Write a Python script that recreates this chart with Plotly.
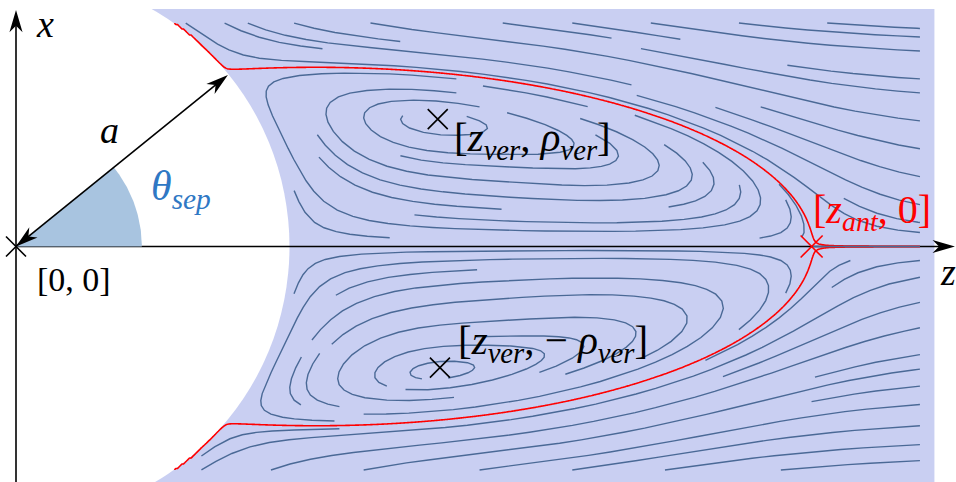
import math
import numpy as np
import plotly.graph_objects as go

# ---------------- values (sphere radius a = 1) ----------------
theta_sep_deg = 39.0            # separation angle theta_sep
z_ant = 2.909                   # rear stagnation point [z_ant, 0]
vortex_z = [1.542, 1.550]       # vortex centres [z_ver, +/-rho_ver]
vortex_x = [0.466, -0.443]
bubble_z_center = 1.10          # recirculation bubble (elliptic fit of separatrix)
bubble_half_height = 0.655
domain_z = [0.0, 3.358]         # shaded computational domain
domain_x = [-0.868, 0.868]
stream_z = [0.0, 3.305]         # extent of the streamline grid
stream_x = [-0.817, 0.817]
wedge_radius = 0.46
axis_x_tip = 0.865
axis_z_tip = 3.433
view_z = [-0.0585, 3.4369]
view_x = [-0.861, 0.9013]

# ---------------- model stream function of the flow ----------------
ZC = bubble_z_center
A = z_ant - bubble_z_center
B = bubble_half_height
S = 2.0
R_STOP = 1.02
ZV = sum(vortex_z) / 2.0
XV = (abs(vortex_x[0]) + abs(vortex_x[1])) / 2.0
SIG_Z, SIG_X = 0.6, 0.3


def base_terms(z, x):
    r2 = z * z + x * x
    f = x * (1.0 - 1.0 / r2)
    g = ((z - ZC) / A) ** 2 + (x / B) ** 2 - 1.0
    return f, g


def psi0(z, x):
    f, g = base_terms(z, x)
    return f * math.tanh(S * g)


# correction that places the vortex centre at the read position (vanishes on psi = 0 lines)
_h = 1e-6
_gz = (psi0(ZV + _h, XV) - psi0(ZV - _h, XV)) / (2 * _h)
_gx = (psi0(ZV, XV + _h) - psi0(ZV, XV - _h)) / (2 * _h)
_f, _g = base_terms(ZV, XV)
C1 = -_gz / (_f * _g)
C2 = -_gx / (_f * _g)


def psi_s(z, x):
    f, g = base_terms(z, x)
    ax = abs(x)
    k = math.exp(-((z - ZV) / SIG_Z) ** 2 - ((ax - XV) / SIG_X) ** 2)
    return f * (math.tanh(S * g) + g * (C1 * (z - ZV) + C2 * (ax - XV)) * k)


def psi_np(z, x):
    r2 = z * z + x * x
    f = x * (1.0 - 1.0 / r2)
    g = ((z - ZC) / A) ** 2 + (x / B) ** 2 - 1.0
    ax = np.abs(x)
    k = np.exp(-((z - ZV) / SIG_Z) ** 2 - ((ax - XV) / SIG_X) ** 2)
    return f * (np.tanh(S * g) + g * (C1 * (z - ZV) + C2 * (ax - XV)) * k)


def vel(z, x, h=1e-6):
    u = (psi_s(z, x + h) - psi_s(z, x - h)) / (2 * h)
    v = -(psi_s(z + h, x) - psi_s(z - h, x)) / (2 * h)
    return u, v


class OutOfBounds(Exception):
    pass


class Terminate(Exception):
    pass


class Invalid(Exception):
    pass


def gen_starting_points(nx, ny):
    xfirst, yfirst, xlast, ylast = 0, 1, nx - 1, ny - 1
    x, y = 0, 0
    direction = 'right'
    for _ in range(nx * ny):
        yield x, y
        if direction == 'right':
            x += 1
            if x >= xlast:
                xlast -= 1
                direction = 'up'
        elif direction == 'up':
            y += 1
            if y >= ylast:
                ylast -= 1
                direction = 'left'
        elif direction == 'left':
            x -= 1
            if x <= xfirst:
                xfirst += 1
                direction = 'down'
        elif direction == 'down':
            y -= 1
            if y <= yfirst:
                yfirst += 1
                direction = 'right'


def streamplot(density=(1.35, 1.1), minlength=0.1, maxlength=4.0):
    nxm, nym = int(30 * density[0]), int(30 * density[1])
    mask = np.zeros((nym, nxm), dtype=int)
    Z0, Z1 = stream_z
    X0, X1 = stream_x
    Lz, Lx = Z1 - Z0, X1 - X0
    st = {'cur': None, 'traj': []}
    maxds = min(1.0 / nxm, 1.0 / nym, 0.1)
    maxerror = 0.003

    def cell(sx, sy):
        return int(sx * (nxm - 1) + 0.5), int(sy * (nym - 1) + 0.5)

    def update(sx, sy):
        if not (0 <= sx <= 1 and 0 <= sy <= 1):
            raise Invalid
        xm, ym = cell(sx, sy)
        if st['cur'] != (xm, ym):
            if mask[ym, xm] == 0:
                st['traj'].append((ym, xm))
                mask[ym, xm] = 1
                st['cur'] = (xm, ym)
            else:
                raise Invalid

    def f(sx, sy, sign):
        if not (0 <= sx <= 1 and 0 <= sy <= 1):
            raise OutOfBounds
        z, x = Z0 + sx * Lz, X0 + sy * Lx
        if z * z + x * x < R_STOP ** 2:
            raise Terminate
        u, v = vel(z, x)
        ua, va = u / Lz, v / Lx
        sp = math.hypot(ua, va)
        if sp == 0:
            raise Terminate
        return sign * ua / sp, sign * va / sp

    def euler(traj, sign):
        sx, sy = traj[-1]
        try:
            cx, cy = f(sx, sy, sign)
        except (OutOfBounds, Terminate):
            return 0.0
        dsx = math.inf if cx == 0 else (sx / -cx if cx < 0 else (1 - sx) / cx)
        dsy = math.inf if cy == 0 else (sy / -cy if cy < 0 else (1 - sy) / cy)
        ds = min(dsx, dsy)
        traj.append((sx + cx * ds, sy + cy * ds))
        return ds

    def rk12(sx, sy, sign):
        ds, stotal, traj = maxds, 0.0, []
        while True:
            try:
                if 0 <= sx <= 1 and 0 <= sy <= 1:
                    traj.append((sx, sy))
                else:
                    raise OutOfBounds
                k1 = f(sx, sy, sign)
                k2 = f(sx + ds * k1[0], sy + ds * k1[1], sign)
            except OutOfBounds:
                if traj:
                    stotal += euler(traj, sign)
                break
            except Terminate:
                break
            dx1, dy1 = ds * k1[0], ds * k1[1]
            dx2, dy2 = ds * 0.5 * (k1[0] + k2[0]), ds * 0.5 * (k1[1] + k2[1])
            err = math.hypot(dx2 - dx1, dy2 - dy1)
            if err < maxerror:
                sx += dx2
                sy += dy2
                try:
                    update(sx, sy)
                except Invalid:
                    break
                if stotal + ds > maxlength:
                    break
                stotal += ds
            if err == 0:
                ds = maxds
            else:
                ds = min(maxds, 0.85 * ds * math.sqrt(maxerror / err))
        return stotal, traj

    lines = []
    for xm, ym in gen_starting_points(nxm, nym):
        if mask[ym, xm] != 0:
            continue
        sx0, sy0 = xm / (nxm - 1), ym / (nym - 1)
        st['traj'], st['cur'] = [], None
        try:
            update(sx0, sy0)
        except Invalid:
            continue
        s1, t1 = rk12(sx0, sy0, -1)
        st['cur'] = cell(sx0, sy0)
        s2, t2 = rk12(sx0, sy0, 1)
        if s1 + s2 > minlength:
            pts = t1[::-1] + t2[1:]
            lines.append([(Z0 + a * Lz, X0 + b * Lx) for a, b in pts])
        else:
            for (yy, xx) in st['traj']:
                mask[yy, xx] = 0
    return lines


stream_lines = streamplot()
sl_z, sl_x = [], []
for ln in stream_lines:
    sl_z += [p[0] for p in ln] + [None]
    sl_x += [p[1] for p in ln] + [None]

# separatrix: level set just outside the psi = 0 dividing streamline
cz = np.linspace(stream_z[0], stream_z[1], 600)
cx = np.linspace(stream_x[0], stream_x[1], 301)
Zg, Xg = np.meshgrid(cz, cx)
R2 = Zg ** 2 + Xg ** 2
PSI = psi_np(Zg, Xg)
PHI = np.where(R2 > 1.0, PSI * np.sign(Xg), -1.0)

BLUE_DOMAIN = '#c9cff2'
STREAM = '#4a6996'
WEDGE = '#a8c4e0'
THETA_COL = '#2f78c4'
RED = '#ff0000'
FONT = 'Liberation Serif, DejaVu Serif, serif'

fig = go.Figure()

th = math.radians(theta_sep_deg)
angs = np.linspace(0, th, 50)
wz = [0.0] + list(wedge_radius * np.cos(angs)) + [0.0]
wx = [0.0] + list(wedge_radius * np.sin(angs)) + [0.0]
fig.add_trace(go.Scatter(x=wz, y=wx, mode='lines', fill='toself', fillcolor=WEDGE,
                         line=dict(width=0, color=WEDGE), hoverinfo='skip'))

fig.add_trace(go.Scatter(x=sl_z, y=sl_x, mode='lines', line=dict(color=STREAM, width=1.4),
                         hoverinfo='skip', connectgaps=False))

fig.add_trace(go.Contour(x=cz, y=cx, z=PHI, autocontour=False,
                         contours=dict(start=0.0005, end=0.0005, size=1, coloring='lines'),
                         colorscale=[[0, RED], [1, RED]], showscale=False,
                         line=dict(width=1.6, smoothing=1), hoverinfo='skip'))

# markers
fig.add_trace(go.Scatter(x=vortex_z + [0.0], y=vortex_x + [0.0], mode='markers',
                         marker=dict(symbol='x-thin', size=20, line=dict(width=1.6, color='black')),
                         hoverinfo='skip'))
fig.add_trace(go.Scatter(x=[z_ant], y=[0.0], mode='markers',
                         marker=dict(symbol='x-thin', size=22, line=dict(width=1.6, color=RED)),
                         hoverinfo='skip'))


def head(tip, ang, L=0.082, W=0.024, back=0.058):
    c, s = math.cos(ang), math.sin(ang)

    def P(a, b):
        return (tip[0] + a * c - b * s, tip[1] + a * s + b * c)
    pts = [P(0, 0), P(-L, W), P(-back, 0), P(-L, -W)]
    return 'M ' + ' L '.join(f'{p[0]:.5f},{p[1]:.5f}' for p in pts) + ' Z'


shapes = [
    dict(type='rect', x0=domain_z[0], x1=domain_z[1], y0=domain_x[0], y1=domain_x[1],
         fillcolor=BLUE_DOMAIN, line=dict(width=0), layer='below'),
    dict(type='circle', x0=-1, x1=1, y0=-1, y1=1, fillcolor='white', line=dict(width=0), layer='below'),
    # axes
    dict(type='line', x0=0, x1=axis_z_tip - 0.04, y0=0, y1=0, line=dict(color='black', width=1.6),
         layer='below'),
    dict(type='line', x0=0, x1=0, y0=view_x[0] - 0.05, y1=axis_x_tip - 0.04, line=dict(color='black', width=1.6)),
    dict(type='path', path=head((0.0, axis_x_tip), math.pi / 2), fillcolor='black', line=dict(width=0)),
    dict(type='path', path=head((axis_z_tip, 0.0), 0.0), fillcolor='black', line=dict(width=0)),
]
tip_a = (0.997 * math.cos(th), 0.997 * math.sin(th))
shapes += [
    dict(type='line', x0=0.03 * math.cos(th), y0=0.03 * math.sin(th), x1=tip_a[0] - 0.03 * math.cos(th),
         y1=tip_a[1] - 0.03 * math.sin(th), line=dict(color='black', width=1.6)),
    dict(type='path', path=head(tip_a, th), fillcolor='black', line=dict(width=0)),
    dict(type='path', path=head((0.0, 0.0), th + math.pi), fillcolor='black', line=dict(width=0)),
]


def px2z(p):
    return (p - 16) / 273.5


def py2x(p):
    return (246.5 - p) / 273.5


ann = [
    dict(text='<i>x</i>', x=px2z(45), y=py2x(24), size=38, color='black', xa='center'),
    dict(text='<i>z</i>', x=px2z(948), y=py2x(272), size=38, color='black', xa='center'),
    dict(text='<i>a</i>', x=px2z(109), y=py2x(130), size=38, color='black', xa='center'),
    dict(text='<i>θ</i><sub><i>sep</i></sub>', x=px2z(149), y=py2x(189), size=42, color=THETA_COL, xa='left'),
    dict(text='[0, 0]', x=px2z(35), y=py2x(279), size=34, color='black', xa='left'),
    dict(text='[<i>z</i><sub><i>ver</i></sub>, <i>ρ</i><sub><i>ver</i></sub>]', x=px2z(452), y=py2x(140),
         size=41, color='black', xa='left'),
    dict(text='[<i>z</i><sub><i>ver</i></sub>, − <i>ρ</i><sub><i>ver</i></sub>]', x=px2z(456), y=py2x(343),
         size=41, color='black', xa='left'),
    dict(text='[<i>z</i><sub><i>ant</i></sub>, 0]', x=px2z(811), y=py2x(212), size=40, color=RED, xa='left'),
]
annotations = [dict(text=a['text'], x=a['x'], y=a['y'], xref='x', yref='y', showarrow=False,
                    xanchor=a['xa'], yanchor='middle', font=dict(family=FONT, size=a['size'], color=a['color']))
               for a in ann]

fig.update_layout(
    width=956, height=482, margin=dict(l=0, r=0, t=0, b=0),
    paper_bgcolor='white', plot_bgcolor='white', showlegend=False,
    xaxis=dict(range=view_z, visible=False, fixedrange=True),
    yaxis=dict(range=view_x, visible=False, fixedrange=True),
    shapes=shapes, annotations=annotations,
)
fig.write_html('out.html', config={'displayModeBar': False},
               post_script="document.body.style.margin='0';document.body.style.overflow='hidden';")
